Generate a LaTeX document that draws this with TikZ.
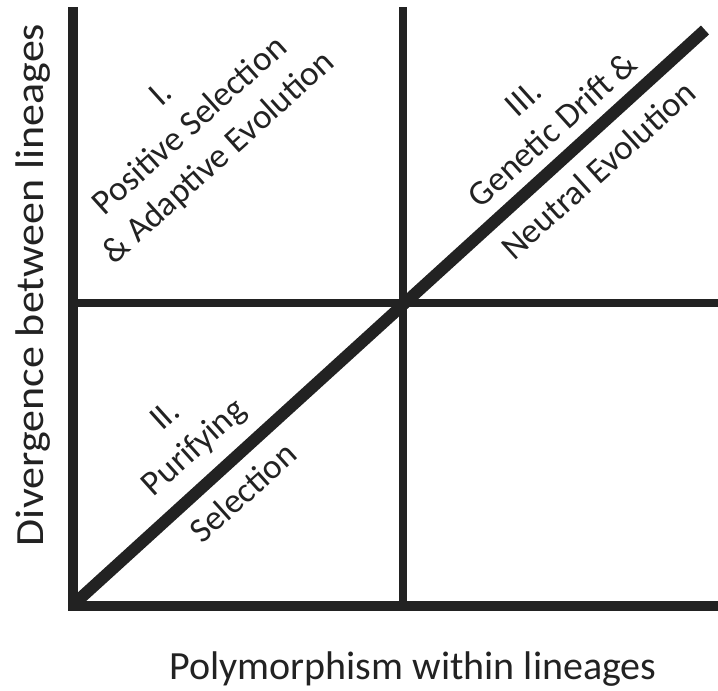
\documentclass[tikz,border=0pt]{standalone}
\usepackage{fontspec}
\setmainfont{Carlito}
\definecolor{ink}{HTML}{222222}
\begin{document}
\begin{tikzpicture}[x=1pt,y=-1pt,
  lbl/.style={text=ink,font=\fontsize{35}{43}\selectfont,align=center,inner sep=0pt},
  axlbl/.style={text=ink,font=\fontsize{40}{48}\selectfont,inner sep=0pt},
  axisline/.style={draw=ink,line width=10pt,line join=miter},
  midline/.style={draw=ink,line width=8pt},
  diag/.style={draw=ink,line width=12pt}]
\useasboundingbox (0,0) rectangle (718,691);
% coordinates
\coordinate (ytop) at (73,7);
\coordinate (orig) at (73,606);
\coordinate (xend) at (718,606);
\coordinate (vtop) at (403,7);
\coordinate (vbot) at (403,606);
\coordinate (hleft) at (73,303);
\coordinate (hright) at (718,303);
\coordinate (dstart) at (74,604);
\coordinate (dend) at (705,30);
% lines
\draw[midline] (vtop) -- (vbot);
\draw[midline] (hleft) -- (hright);
\draw[diag] (dstart) -- (dend);
\draw[axisline] (ytop) -- (orig) -- (xend);
% labels
\node[axlbl,rotate=90] (ylab) at (33,285) {\scalebox{1.1}[1]{Divergence between lineages}};
\node[axlbl] (xlab) at (413,669) {Polymorphism within lineages};
\node[lbl,rotate=42] (q1) at (191,127) {I.\\Positive Selection\\\& Adaptive Evolution};
\node[lbl,rotate=42] (q2a) at (181,433) {II.\\Purifying};
\node[lbl,rotate=42] (q2b) at (243,492) {Selection};
\node[lbl,rotate=42] (q3a) at (538,114) {III.\\Genetic Drift \&};
\node[lbl,rotate=42] (q3b) at (598,170) {Neutral Evolution};
\end{tikzpicture}
\end{document}
